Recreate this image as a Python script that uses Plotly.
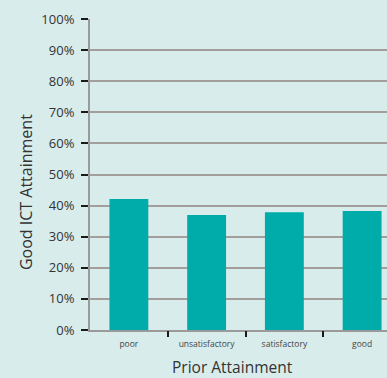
import plotly.graph_objects as go

categories = ["poor", "unsatisfactory", "satisfactory", "good"]
values = [0.421, 0.370, 0.379, 0.383]
y_ticks = [0, 0.1, 0.2, 0.3, 0.4, 0.5, 0.6, 0.7, 0.8, 0.9, 1.0]
y_tick_labels = ["0%", "10%", "20%", "30%", "40%", "50%", "60%", "70%", "80%", "90%", "100%"]
boundary_ticks = [0.5, 1.5, 2.5]

bg = "#d8ecec"
font = "Open Sans"

fig = go.Figure(go.Bar(x=categories, y=values, marker_color="#00aca9",
                       marker_line_width=0, width=0.5))

fig.update_layout(
    width=387, height=378,
    margin=dict(l=90, r=0, t=19, b=48),
    paper_bgcolor=bg, plot_bgcolor=bg,
    showlegend=False,
    font=dict(family=font, color="#333333"),
    bargap=0.5,
    xaxis2=dict(overlaying="x", side="bottom", range=[-0.5, 3.32], anchor="y",
                tickvals=boundary_ticks, ticktext=["", "", ""], ticks="outside",
                ticklen=6, tickwidth=2, tickcolor="#1a1a1a", showgrid=False,
                showline=False, zeroline=False),
)
fig.add_trace(go.Scatter(x=[0], y=[0], xaxis="x2", mode="markers",
                         marker=dict(opacity=0), hoverinfo="skip", showlegend=False))
fig.layout.xaxis.update(
    range=[-0.5, 3.32], type="category",
    showline=True, linecolor="#9a9a9a", linewidth=2,
    ticks="", ticklabelstandoff=5,
    tickfont=dict(size=8.5, color="#444444"), showgrid=False,
)
fig.update_yaxes(
    range=[0, 1.0], tickvals=y_ticks, ticktext=y_tick_labels,
    showline=True, linecolor="#9a9a9a", linewidth=2,
    ticks="outside", ticklen=7, tickwidth=2, tickcolor="#1a1a1a",
    ticklabelstandoff=4,
    tickfont=dict(size=13, color="#333333"),
    showgrid=True, gridcolor="#a39e9c", gridwidth=1.5, zeroline=False,
)
fig.add_annotation(text="Good ICT Attainment", textangle=-90, xref="paper", yref="paper",
                   x=-0.215, y=0.444, xanchor="center", yanchor="middle", showarrow=False,
                   font=dict(size=16, color="#333333"))
fig.add_annotation(text="Prior Attainment", xref="paper", yref="paper",
                   x=0.481, y=-0.119, xanchor="center", yanchor="middle", showarrow=False,
                   font=dict(size=15.5, color="#333333"))

fig.write_html("out.html", config={"displayModeBar": False},
               post_script="document.body.style.margin='0';document.body.style.padding='0';document.body.style.overflow='hidden';document.body.style.background='#d8ecec';")
